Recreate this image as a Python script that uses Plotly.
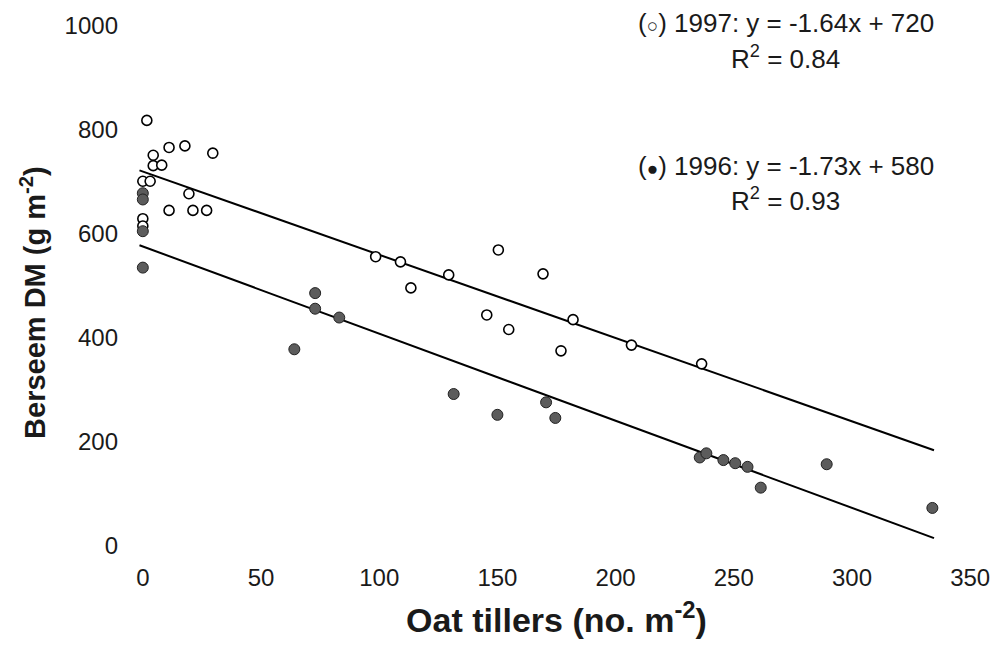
import plotly.graph_objects as go

# 1997 (open circles)
x_1997 = [0, 0, 0, 1.7, 3.1, 4.4, 4.4, 8, 11.1, 11.1, 17.8, 19.5, 21.2, 27, 29.6,
          98.5, 109, 113.4, 129.4, 145.5, 150.4, 154.8, 169.3, 176.9, 182, 206.7, 236.4]
y_1997 = [700, 628, 614, 817, 700, 750, 730, 731, 765, 644, 768, 676, 644, 644, 754,
          555, 545, 495, 520, 443, 568, 415, 522, 374, 434, 385, 349]

# 1996 (filled circles)
x_1996 = [0, 0, 0, 0, 64.1, 72.9, 72.9, 83.1, 131.5, 150, 170.6, 174.5,
          235.6, 238.4, 245.6, 250.6, 255.8, 261.4, 289.3, 334]
y_1996 = [677, 665, 604, 534, 377, 485, 455, 438, 291, 251, 275, 245,
          169, 177, 164, 158, 151, 111, 156, 72]

# Fitted lines as drawn (end points)
fit_x = [-1.4, 334.7]
fit_1997 = [721, 183]
fit_1996 = [577, 14]

x_ticks = [0, 50, 100, 150, 200, 250, 300, 350]
y_ticks = [0, 200, 400, 600, 800, 1000]

FONT = "Liberation Sans, Arial, sans-serif"
TXT = "#1a1a1a"

fig = go.Figure()
fig.add_trace(go.Scatter(x=fit_x, y=fit_1997, mode="lines",
                         line=dict(color="black", width=2), showlegend=False))
fig.add_trace(go.Scatter(x=fit_x, y=fit_1996, mode="lines",
                         line=dict(color="black", width=2), showlegend=False))
fig.add_trace(go.Scatter(x=x_1997, y=y_1997, mode="markers",
                         marker=dict(symbol="circle", size=10, color="white",
                                     line=dict(color="black", width=1.6)),
                         showlegend=False))
fig.add_trace(go.Scatter(x=x_1996, y=y_1996, mode="markers",
                         marker=dict(symbol="circle", size=11, color="#5c5c5c",
                                     line=dict(color="#222", width=1)),
                         showlegend=False))

annots = [
    (272, 1004, "(<span style='font-size:19px'>○</span>) 1997: y = -1.64x + 720"),
    (272, 937, "R<sup>2</sup> = 0.84"),
    (272, 729, "(<span style='font-size:19px'>●</span>) 1996: y = -1.73x + 580"),
    (272, 664, "R<sup>2</sup> = 0.93"),
]
for ax_, ay_, t in annots:
    fig.add_annotation(x=ax_, y=ay_, xref="x", yref="y", text=t, showarrow=False,
                       font=dict(family=FONT, size=26, color=TXT), xanchor="center")

fig.update_layout(
    width=1002, height=651,
    margin=dict(l=130.8, r=11.9, t=15.8, b=90.3),
    paper_bgcolor="white", plot_bgcolor="white",
    font=dict(family=FONT, size=24, color=TXT),
    xaxis=dict(range=[-5, 355], tickvals=x_ticks, showgrid=False, zeroline=False,
               showline=False, ticks="", ticklabelstandoff=0,
               tickfont=dict(size=24),
               title=dict(text="<b>Oat tillers (no. m<sup>-2</sup>)</b>",
                          font=dict(size=34, family=FONT, color=TXT), standoff=18)),
    yaxis=dict(range=[-30, 1010], tickvals=y_ticks, showgrid=False, zeroline=False,
               showline=False, ticks="", ticklabelstandoff=12,
               tickfont=dict(size=24),
               title=dict(text="<b>Berseem DM (g m<sup>-2</sup>)</b>&nbsp;&nbsp;&nbsp;",
                          font=dict(size=29, family=FONT, color=TXT), standoff=10)),
)

fig.write_html("out.html")
